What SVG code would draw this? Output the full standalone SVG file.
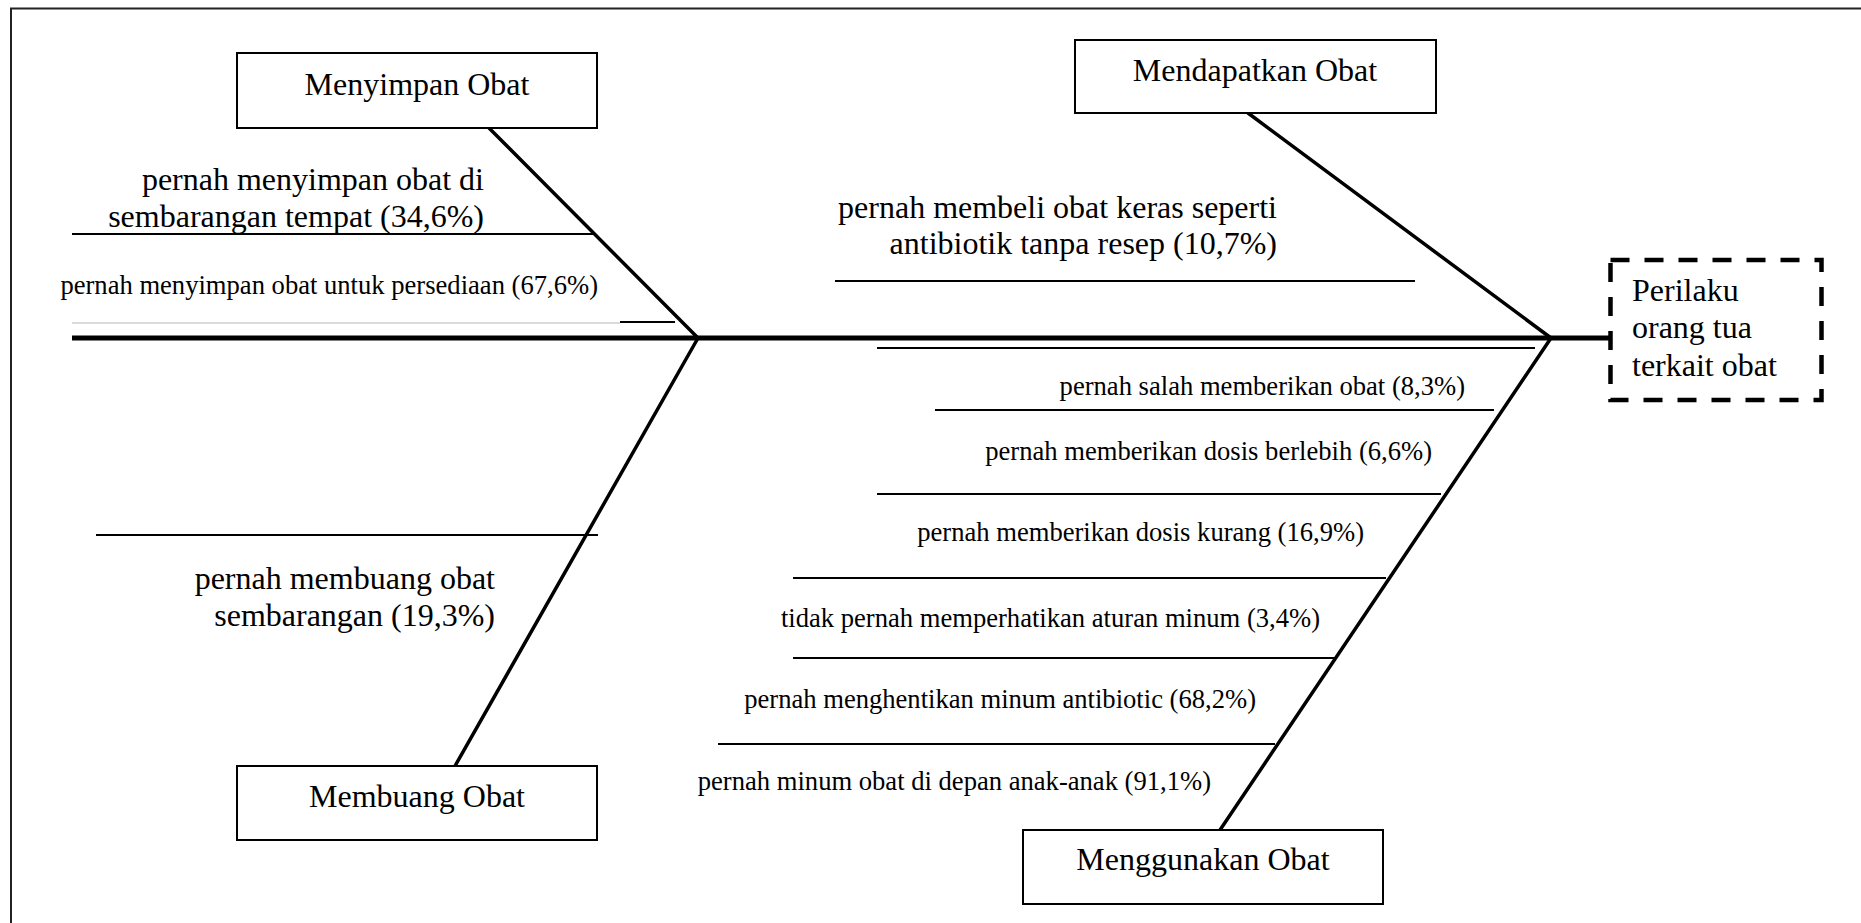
<svg xmlns="http://www.w3.org/2000/svg" width="1861" height="923" viewBox="0 0 1861 923">
  <style>
    .frame { fill: none; stroke: #222; stroke-width: 2; }
    .box { fill: #fff; stroke: #000; stroke-width: 2; }
    .effect { fill: #fff; stroke: #000; stroke-width: 4.5; stroke-dasharray: 19 15; }
    .spine { stroke: #000; stroke-width: 5; fill: none; }
    .bone { stroke: #000; stroke-width: 3.5; fill: none; stroke-linecap: round; }
    .rib { stroke: #000; stroke-width: 2; fill: none; }
    .faint { stroke: #cfcfcf; stroke-width: 1.5; fill: none; }
    text { font-family: "Liberation Serif", "Times New Roman", serif; fill: #000; }
    .big { font-size: 32px; }
    .small { font-size: 26.6px; }
    .mid { text-anchor: middle; }
    .end { text-anchor: end; }
  </style>

  <rect width="1861" height="923" fill="#fff"/>

  <!-- outer frame (top and left edges visible) -->
  <path class="frame" d="M11,923 V8.5 H1861"/>

  <!-- connectors: spine, category bones and cause ribs -->
  <g id="connectors">
    <line class="spine" x1="72" y1="338" x2="1610" y2="338"/>
    <line class="bone" x1="489" y1="128" x2="698" y2="338"/>
    <line class="bone" x1="698" y1="338" x2="455" y2="766"/>
    <line class="bone" x1="1248" y1="113" x2="1551" y2="338"/>
    <line class="bone" x1="1551" y1="338" x2="1220" y2="830"/>

    <!-- Menyimpan Obat ribs -->
    <line class="rib" x1="72" y1="234" x2="595" y2="234"/>
    <line class="faint" x1="72" y1="323" x2="620" y2="323"/>
    <line class="rib" x1="620" y1="322" x2="675" y2="322"/>

    <!-- Mendapatkan Obat rib -->
    <line class="rib" x1="835" y1="281" x2="1415" y2="281"/>

    <!-- Membuang Obat rib -->
    <line class="rib" x1="96" y1="535" x2="598" y2="535"/>

    <!-- Menggunakan Obat ribs -->
    <line class="rib" x1="877" y1="348" x2="1535" y2="348"/>
    <line class="rib" x1="935" y1="410" x2="1494" y2="410"/>
    <line class="rib" x1="877" y1="494" x2="1441" y2="494"/>
    <line class="rib" x1="793" y1="578" x2="1386" y2="578"/>
    <line class="rib" x1="793" y1="658" x2="1336" y2="658"/>
    <line class="rib" x1="718" y1="744" x2="1275" y2="744"/>
  </g>

  <!-- category: storing medicine -->
  <g id="menyimpan">
    <rect class="box" x="237" y="53" width="360" height="75"/>
    <text class="big mid" x="417" y="95">Menyimpan Obat</text>
    <text class="big end" x="484" y="190">pernah menyimpan obat di</text>
    <text class="big end" x="484" y="227">sembarangan tempat (34,6%)</text>
    <text class="small end" x="598" y="294">pernah menyimpan obat untuk persediaan (67,6%)</text>
  </g>

  <!-- category: obtaining medicine -->
  <g id="mendapatkan">
    <rect class="box" x="1075" y="40" width="361" height="73"/>
    <text class="big mid" x="1255" y="81">Mendapatkan Obat</text>
    <text class="big end" x="1277" y="218">pernah membeli obat keras seperti</text>
    <text class="big end" x="1277" y="254">antibiotik tanpa resep (10,7%)</text>
  </g>

  <!-- category: disposing of medicine -->
  <g id="membuang">
    <rect class="box" x="237" y="766" width="360" height="74"/>
    <text class="big mid" x="417" y="807">Membuang Obat</text>
    <text class="big end" x="495" y="589">pernah membuang obat</text>
    <text class="big end" x="495" y="626">sembarangan (19,3%)</text>
  </g>

  <!-- category: using medicine -->
  <g id="menggunakan">
    <rect class="box" x="1023" y="830" width="360" height="74"/>
    <text class="big mid" x="1203" y="870">Menggunakan Obat</text>
    <text class="small end" x="1465" y="395">pernah salah memberikan obat (8,3%)</text>
    <text class="small end" x="1432" y="460">pernah memberikan dosis berlebih (6,6%)</text>
    <text class="small end" x="1364" y="541">pernah memberikan dosis kurang (16,9%)</text>
    <text class="small end" x="1320" y="627">tidak pernah memperhatikan aturan minum (3,4%)</text>
    <text class="small end" x="1256" y="708">pernah menghentikan minum antibiotic (68,2%)</text>
    <text class="small end" x="1211" y="790">pernah minum obat di depan anak-anak (91,1%)</text>
  </g>

  <!-- effect: parental behaviour -->
  <g id="perilaku">
    <rect class="effect" x="1610.5" y="260" width="211" height="140"/>
    <text class="big" x="1632" y="301">Perilaku</text>
    <text class="big" x="1632" y="338">orang tua</text>
    <text class="big" x="1632" y="376">terkait obat</text>
  </g>
</svg>
